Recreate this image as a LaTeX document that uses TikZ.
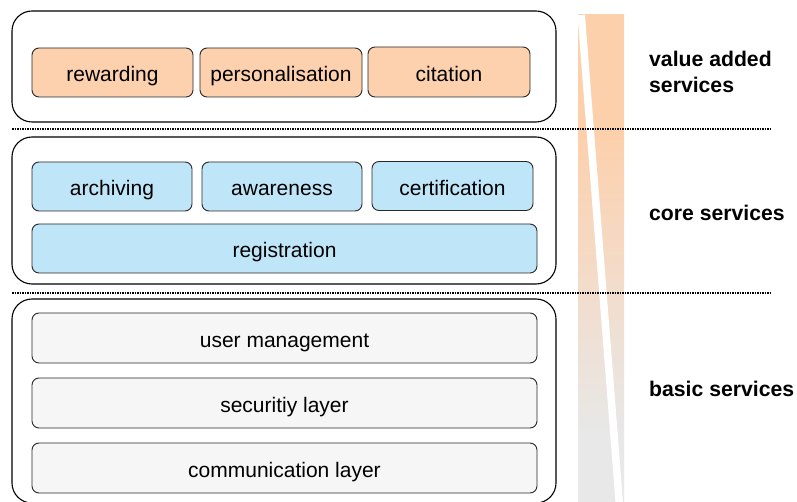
\documentclass[tikz,border=0pt]{standalone}
\usepackage{fontspec}
\setmainfont{Liberation Sans}
\definecolor{peach}{RGB}{253,208,174}
\definecolor{skyb}{RGB}{191,230,248}
\definecolor{lgrey}{RGB}{246,246,246}
\definecolor{bargrey}{RGB}{232,232,232}
\definecolor{barpeach}{RGB}{253,208,172}
\definecolor{edge}{RGB}{40,40,40}
\pgfdeclareverticalshading{barshade}{100bp}{color(0bp)=(bargrey); color(32bp)=(bargrey); color(63bp)=(barpeach); color(100bp)=(barpeach)}
\tikzset{
  outerbox/.style={draw=black, line width=1.1pt, rounded corners=20pt, inner sep=0pt, fill=white},
  inbox/.style={draw=edge, line width=0.9pt, rounded corners=7pt, inner sep=0pt, text height=19pt, text depth=0pt, font=\fontsize{21}{24}\selectfont},
  vabox/.style={inbox, fill=peach},
  corebox/.style={inbox, fill=skyb},
  basebox/.style={inbox, fill=lgrey},
  sep/.style={line width=1.6pt, dash pattern=on 1.6pt off 0.9pt},
  lab/.style={font=\fontsize{21.2}{26}\selectfont\bfseries, anchor=base west, inner sep=0pt, align=left}
}
\begin{document}
\begin{tikzpicture}[x=1pt,y=-1pt]
\useasboundingbox (0,0) rectangle (797,502);
% gradient bar
\path[shading=barshade] (578,15) rectangle (624,502);
\fill[white] (577.5,15) -- (585,15) -- (623,502.5) -- (615.5,502.5) -- cycle;
% separators
\coordinate (s1a) at (12,129); \coordinate (s1b) at (770,129);
\coordinate (s2a) at (12,293); \coordinate (s2b) at (770,293);
\draw[sep] (s1a) -- (s1b);
\draw[sep] (s2a) -- (s2b);
% outer boxes
\node[outerbox, minimum width=544pt, minimum height=111pt] (va) at (284,66.5) {};
\node[outerbox, minimum width=544pt, minimum height=147pt] (core) at (284,210.5) {};
\node[outerbox, minimum width=544pt, minimum height=204pt] (basic) at (284,401) {};
% value added
\node[vabox, minimum width=161pt, minimum height=49pt] (rew) at (112.5,72.5) {rewarding};
\node[vabox, minimum width=162pt, minimum height=49pt] (pers) at (281,72.5) {personalisation};
\node[vabox, minimum width=162pt, minimum height=50pt] (cit) at (449,72) {citation};
% core
\node[corebox, minimum width=160pt, minimum height=49pt] (arch) at (112,186.5) {archiving};
\node[corebox, minimum width=160pt, minimum height=49pt] (aware) at (282,186.5) {awareness};
\node[corebox, minimum width=161pt, minimum height=49pt] (cert) at (452.5,186) {certification};
\node[corebox, minimum width=505pt, minimum height=49pt] (reg) at (284.5,248.5) {registration};
% basic
\node[basebox, minimum width=505pt, minimum height=50pt] (um) at (284.5,338) {user management};
\node[basebox, minimum width=505pt, minimum height=50pt] (sec) at (284.5,403) {securitiy layer};
\node[basebox, minimum width=505pt, minimum height=50pt] (comm) at (284.5,468) {communication layer};
% labels
\node[lab] (lva) at (649,93) {value added\\services};
\node[lab] (lcore) at (649,221) {core services};
\node[lab] (lbasic) at (649,396) {basic services};
\end{tikzpicture}
\end{document}
